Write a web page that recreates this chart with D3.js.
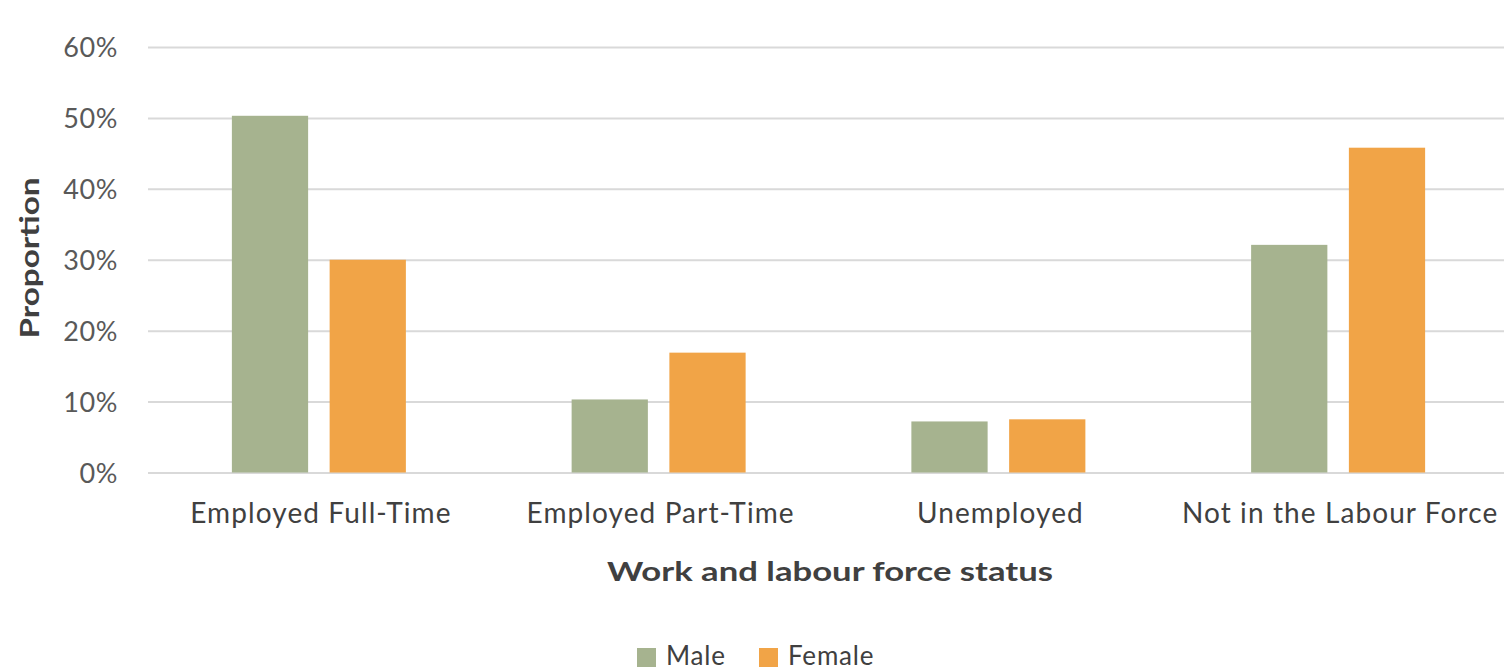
<!DOCTYPE html>
<html>
<head>
<meta charset="utf-8">
<script src="https://cdn.jsdelivr.net/npm/d3@7"></script>
<style>
  html, body { margin: 0; padding: 0; background: #fff; overflow: hidden; }
  svg { display: block; font-family: Lato, "Open Sans", sans-serif; }
</style>
</head>
<body>
<svg id="chart" width="1504" height="672"></svg>
<script>
// Work and labour force status by sex
const categories = ["Employed Full-Time", "Employed Part-Time", "Unemployed", "Not in the Labour Force"];
const seriesNames = ["Male", "Female"];
const maleValues = [0.503, 0.103, 0.072, 0.321];
const femaleValues = [0.300, 0.169, 0.075, 0.458];
const yTicks = [0, 0.1, 0.2, 0.3, 0.4, 0.5, 0.6];
const colors = { Male: "#a6b38f", Female: "#f1a447" };

const rows = categories.map((c, i) => ({ category: c, Male: maleValues[i], Female: femaleValues[i] }));

const svg = d3.select("#chart");
const plot = { left: 148, right: 1507, top: 47, bottom: 472.5 };

const x0 = d3.scaleBand().domain(categories).range([plot.left, plot.right]);
const groupWidth = 174;
const groupStart = (x0.bandwidth() - groupWidth) / 2 + 1;
const x1 = d3.scaleBand().domain(seriesNames)
  .range([groupStart, groupStart + groupWidth])
  .paddingInner(0.22).paddingOuter(0);
const y = d3.scaleLinear().domain([0, 0.6]).range([plot.bottom, plot.top]);

// Gridlines and tick labels
const yAxis = d3.axisLeft(y).tickValues(yTicks).tickFormat(d3.format(".0%"))
  .tickSize(-(plot.right - plot.left)).tickPadding(30);
const gy = svg.append("g").attr("transform", `translate(${plot.left},0)`).call(yAxis);
gy.select(".domain").remove();
gy.selectAll(".tick line").attr("stroke", "#d9d9d9").attr("stroke-width", 2);
gy.selectAll(".tick text")
  .attr("fill", "#595959").attr("font-size", 27).attr("font-family", "Lato, sans-serif")
  .attr("letter-spacing", "0.6px")
  .attr("dy", "0.36em");

// Bars
const groups = svg.append("g").selectAll("g").data(rows).join("g")
  .attr("transform", d => `translate(${x0(d.category)},0)`);
groups.selectAll("rect")
  .data(d => seriesNames.map(s => ({ key: s, value: d[s] })))
  .join("rect")
  .attr("x", d => x1(d.key))
  .attr("width", x1.bandwidth())
  .attr("y", d => y(d.value))
  .attr("height", d => y(0) - y(d.value))
  .attr("fill", d => colors[d.key]);

// Category labels
const xAxis = d3.axisBottom(x0).tickSize(0).tickPadding(0);
const gx = svg.append("g").attr("transform", `translate(0,${plot.bottom})`).call(xAxis);
gx.select(".domain").remove();
gx.selectAll(".tick text")
  .attr("fill", "#404040").attr("font-size", 28).attr("font-family", "Lato, sans-serif")
  .attr("letter-spacing", "1.1px")
  .attr("dy", null).attr("y", 50)
  .attr("transform", "translate(3,0)");

// Axis titles
svg.append("text")
  .attr("x", 830).attr("y", 581)
  .attr("text-anchor", "middle")
  .attr("font-size", 27).attr("font-weight", "bold").attr("fill", "#404040")
  .attr("textLength", 446).attr("lengthAdjust", "spacingAndGlyphs")
  .text("Work and labour force status");

svg.append("text")
  .attr("transform", "translate(39,258) rotate(-90)")
  .attr("text-anchor", "middle")
  .attr("font-size", 26).attr("font-weight", "bold").attr("fill", "#404040")
  .attr("textLength", 161).attr("lengthAdjust", "spacingAndGlyphs")
  .text("Proportion");

// Legend
const legendX = [637, 759];
const legend = svg.append("g").selectAll("g").data(seriesNames).join("g")
  .attr("transform", (d, i) => `translate(${legendX[i]},648)`);
legend.append("rect").attr("width", 19).attr("height", 19).attr("fill", d => colors[d]);
legend.append("text")
  .attr("x", 29).attr("y", 17)
  .attr("font-size", 26).attr("fill", "#404040")
  .attr("letter-spacing", "0.8px")
  .text(d => d);
</script>
</body>
</html>
